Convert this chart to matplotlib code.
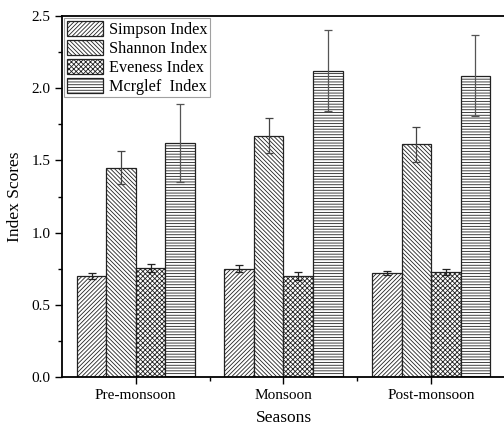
import matplotlib
matplotlib.use("Agg")
import matplotlib.pyplot as plt
import numpy as np

plt.rcParams['font.family'] = ['Liberation Serif', 'DejaVu Serif']
plt.rcParams['hatch.linewidth'] = 0.6
plt.rcParams['hatch.color'] = '#333333'

seasons = ["Pre-monsoon", "Monsoon", "Post-monsoon"]
series = ["Simpson Index", "Shannon Index", "Eveness Index", "Mcrglef  Index"]
simpson = [0.70, 0.75, 0.72]
simpson_err = [0.02, 0.025, 0.015]
shannon = [1.45, 1.67, 1.61]
shannon_err = [0.115, 0.12, 0.12]
eveness = [0.755, 0.70, 0.73]
eveness_err = [0.025, 0.025, 0.02]
margalef = [1.62, 2.12, 2.085]
margalef_err = [0.27, 0.28, 0.28]

values = [simpson, shannon, eveness, margalef]
errors = [simpson_err, shannon_err, eveness_err, margalef_err]
hatches = ['////////', '\\\\\\\\\\\\\\\\', 'xxxxxxx', '------']
ecolors = ['#222222', '#444444', '#222222', '#555555']

fig = plt.figure(figsize=(5.04, 4.30), dpi=100)
ax = fig.add_axes([0.123, 0.123, 0.879, 0.840])

x = np.arange(len(seasons))
w = 0.2
for i, (vals, errs) in enumerate(zip(values, errors)):
    ax.bar(x + (i - 1.5) * w, vals, w, yerr=errs, color='white', edgecolor='#222222',
           linewidth=0.9, hatch=hatches[i], label=series[i],
           error_kw=dict(ecolor=ecolors[i], elinewidth=0.9, capsize=3, capthick=0.9))

ax.set_xlim(-0.5, 2.5)
ax.set_ylim(0, 2.5)
ax.set_xticks(x)
ax.set_xticklabels(seasons, fontsize=11)
ax.set_xticks([0.5, 1.5], minor=True)
ax.set_yticks(np.arange(0, 2.51, 0.5))
ax.set_yticklabels([f"{v:.1f}" for v in np.arange(0, 2.51, 0.5)], fontsize=11)
ax.set_yticks(np.arange(0.25, 2.5, 0.5), minor=True)
ax.tick_params(axis='both', which='major', direction='out', length=5, width=1)
ax.tick_params(axis='both', which='minor', direction='out', length=3, width=1)
for s in ax.spines.values():
    s.set_linewidth(1.3)

ax.set_xlabel("Seasons", fontsize=12.5, labelpad=6)
ax.set_ylabel("Index Scores", fontsize=12.5, labelpad=6)

leg = ax.legend(loc='upper left', fontsize=11.7, frameon=True, fancybox=False,
                edgecolor='#888888', handlelength=2.2, handleheight=1.05,
                borderaxespad=0.15, borderpad=0.15, labelspacing=0.12, handletextpad=0.4)
leg.get_frame().set_linewidth(0.8)

fig.savefig("out.png", dpi=100)
